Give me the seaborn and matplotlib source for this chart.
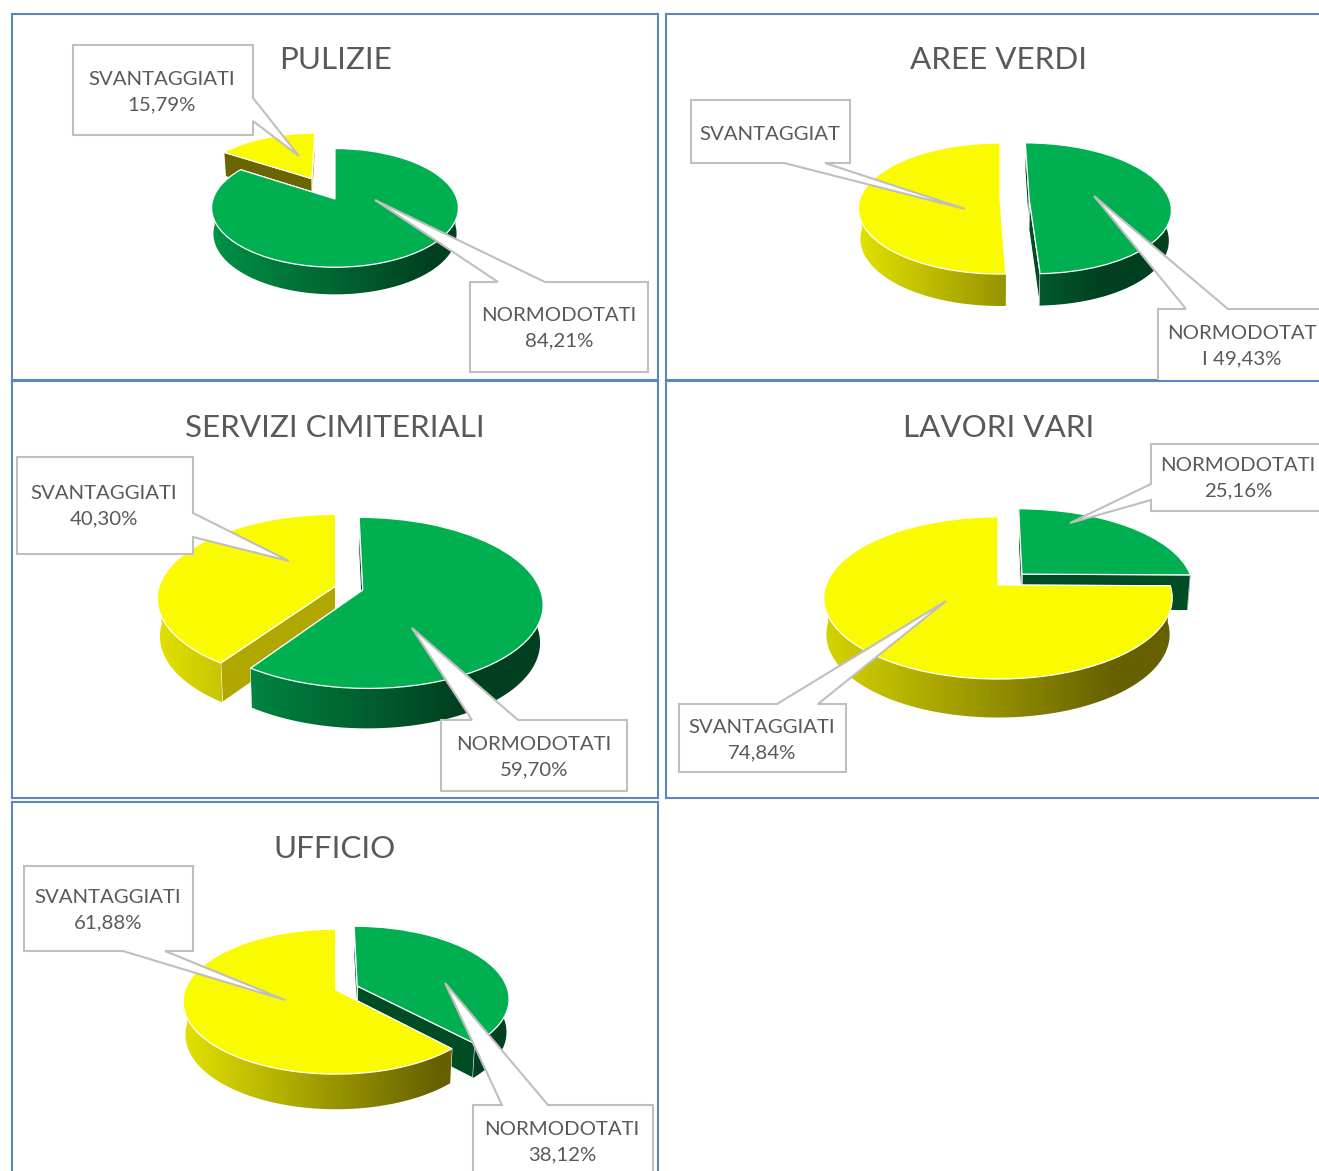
import numpy as np
import matplotlib
matplotlib.use('Agg')
import matplotlib.pyplot as plt
from matplotlib.patches import Polygon
from matplotlib.transforms import Transform
import seaborn as sns

# chart data
titles = ['PULIZIE', 'AREE VERDI', 'SERVIZI CIMITERIALI', 'LAVORI VARI', 'UFFICIO']
normodotati = [84.21, 49.43, 59.70, 25.16, 38.12]
svantaggiati = [15.79, 50.57, 40.30, 74.84, 61.88]
normLabels = ['NORMODOTATI\n84,21%', 'NORMODOTAT\nI 49,43%', 'NORMODOTATI\n59,70%',
              'NORMODOTATI\n25,16%', 'NORMODOTATI\n38,12%']
svantLabels = ['SVANTAGGIATI\n15,79%', 'SVANTAGGIAT', 'SVANTAGGIATI\n40,30%',
               'SVANTAGGIATI\n74,84%', 'SVANTAGGIATI\n61,88%']

# layout, everything in reference pixels (y pointing down)
W, H = 1319, 1171
panelBoxes = [(12, 14, 658, 380), (666, 14, 1330, 380), (12, 381, 658, 798),
              (666, 381, 1330, 798), (12, 802, 658, 1185)]
titlePos = [(335, 58), (999, 58), (335, 426), (999, 426), (335, 847)]
# cx, cy, rx, ry, perspective, depth, shift, explode normodotati, explode svantaggiati
pieGeom = [(335, 199, 122, 58, 0.15, 25.5, 0.0, 0.0, 0.42),
           (1000, 198.6, 140, 64, 0.15, 30, 0.104, 0.104, 0.104),
           (335, 588, 177, 83, 0.15, 37.5, 0.08, 0.08, 0.08),
           (998, 585, 172, 79, 0.16, 36, 0.0, 0.2, 0.0),
           (335, 988, 150, 70, 0.16, 32.8, 0.077, 0.077, 0.077)]
# box x0, y0, x1, y1, side the tail leaves from, tail outline, text centre
normCallouts = [((470, 282, 648, 372), 'top', [(498, 282), (375, 200), (545, 282)], (559, 328)),
                ((1158, 309, 1330, 390), 'top', [(1186, 309), (1094, 196), (1228, 309)], (1242, 346)),
                ((441, 720, 627, 791), 'top', [(472, 720), (412, 628), (518, 720)], (534, 757)),
                ((1151, 444, 1330, 511), 'left', [(1151, 500), (1070, 523), (1151, 484)], (1238, 478)),
                ((473, 1105, 653, 1185), 'top', [(502, 1105), (445, 983), (548, 1105)], (562, 1142))]
svantCallouts = [((73, 45, 253, 135), 'right', [(253, 98), (299, 156), (253, 121)], (162, 92)),
                 ((691, 100, 850, 163), 'bottom', [(825, 163), (965, 209), (784, 163)], (770, 134)),
                 ((17, 457, 193, 554), 'right', [(193, 513), (289, 561), (193, 537)], (104, 506)),
                 ((679, 704, 846, 772), 'top', [(777, 704), (946, 601), (818, 704)], (762, 740)),
                 ((24, 866, 193, 951), 'bottom', [(165, 951), (285, 1000), (123, 951)], (108, 910))]

TEXT_GREY = '#595959'
BOX_GREY = '#BFBFBF'
PANEL_BLUE = '#5B87BF'
SLICE_COLORS = ['#00B050', '#FAFA00']
WALL_LIGHT = ['#00A550', '#E2E200']
WALL_DARK = ['#004020', '#666000']
FACE_MID = ['#007A3D', '#B0A800']
FACE_DARK = ['#004D25', '#6B6500']


class PieProjection(Transform):
    # maps the flat unit pie to the tilted ellipse seen in the picture
    input_dims = 2
    output_dims = 2
    is_separable = False
    has_inverse = False

    def __init__(self, cx, cy, rx, ry, k, shift):
        super().__init__()
        self.cx, self.cy, self.rx, self.ry, self.k, self.shift = cx, cy, rx, ry, k, shift

    def transform_non_affine(self, values):
        values = np.asarray(values, dtype=float)
        u = values[:, 0] + self.shift
        w = 1 + self.k * values[:, 1]
        return np.column_stack([self.cx + self.rx * u / w, self.cy - self.ry * values[:, 1] / w])


def drawSideFaces(ax, wedge, proj, geom, idx, zorder):
    cx, cy, rx, ry, k, depth, shift = geom[:7]
    c = np.array(wedge.center)

    def extrude(uv):
        pts = proj.transform_non_affine(uv)
        drop = depth / (1 + 0.4 * k * uv[:, 1])
        # lower rim sits a little inside the upper one
        lowX = cx + (pts[:, 0] - cx) * 0.985
        return pts, np.column_stack([lowX, pts[:, 1] + drop])

    # flat faces along both radii
    for theta, sign in [(wedge.theta1, 1), (wedge.theta2, -1)]:
        rad = np.radians(theta)
        tip = c + [np.cos(rad), np.sin(rad)]
        top, low = extrude(np.array([c, tip]))
        normalX = sign * np.sin(rad)
        color = FACE_MID[idx] if normalX > 0.5 else FACE_DARK[idx]
        ax.add_patch(Polygon(np.vstack([top, low[::-1]]), closed=True, facecolor=color,
                             edgecolor='white', linewidth=0.8, zorder=zorder))

    # outer wall, only the part turned towards the viewer
    th = np.radians(np.linspace(wedge.theta1, wedge.theta2, 400))
    th = th[np.sin(th) < 0.0]
    if len(th) < 2:
        return
    uv = np.column_stack([c[0] + np.cos(th), c[1] + np.sin(th)])
    top, low = extrude(uv)
    poly = Polygon(np.vstack([top, low[::-1]]), closed=True, facecolor='none', edgecolor='none',
                   zorder=zorder + 0.1)
    ax.add_patch(poly)

    # the colour ramp runs over the whole pie, not over one slice
    cmap = sns.blend_palette([WALL_LIGHT[idx], WALL_DARK[idx]], as_cmap=True)
    spread = max(geom[7:9])
    ramp = np.clip(np.linspace(0, 1, 256) / 0.78, 0, 1)[None, :]
    xl = cx + (shift - 1.02 - spread) * rx
    xr = cx + (shift + 1.02 + spread) * rx
    im = ax.imshow(ramp, cmap=cmap, vmin=0, vmax=1, aspect='auto', zorder=zorder + 0.1,
                   extent=(xl, xr, low[:, 1].max() + 2, top[:, 1].min() - 2))
    im.set_clip_path(poly)


def drawCallout(ax, box, side, tail, textPos, label):
    x0, y0, x1, y1 = box
    if side == 'top':
        outline = [(x0, y0)] + tail + [(x1, y0), (x1, y1), (x0, y1)]
    elif side == 'right':
        outline = [(x0, y0), (x1, y0)] + tail + [(x1, y1), (x0, y1)]
    elif side == 'bottom':
        outline = [(x0, y0), (x1, y0), (x1, y1)] + tail + [(x0, y1)]
    else:
        outline = [(x0, y0), (x1, y0), (x1, y1), (x0, y1)] + tail
    ax.add_patch(Polygon(outline, closed=True, facecolor='white', edgecolor=BOX_GREY,
                         linewidth=1.5, joinstyle='miter', zorder=30))
    ax.text(textPos[0], textPos[1], label, color=TEXT_GREY, fontsize=14.7, ha='center', va='center',
            linespacing=1.58, zorder=31)


def drawPanel(fig, i):
    x0, y0, x1, y1 = panelBoxes[i]
    ax = fig.add_axes([x0 / W, 1 - y1 / H, (x1 - x0) / W, (y1 - y0) / H])
    geom = pieGeom[i]
    proj = PieProjection(*geom[:4], geom[4], geom[6])

    wedges, _ = ax.pie([normodotati[i], svantaggiati[i]], explode=geom[7:9], startangle=90, counterclock=False,
                       colors=SLICE_COLORS, radius=1,
                       wedgeprops={'edgecolor': 'white', 'linewidth': 0.9})

    # back slice first, so the front one can cover it
    order = sorted(range(2), key=lambda j: -wedges[j].center[1])
    for n, j in enumerate(order):
        zorder = 5 + 3 * n
        drawSideFaces(ax, wedges[j], proj, geom, j, zorder)
        wedges[j].set_transform(proj + ax.transData)
        wedges[j].set_zorder(zorder + 1)

    drawCallout(ax, *normCallouts[i], normLabels[i])
    drawCallout(ax, *svantCallouts[i], svantLabels[i])
    ax.text(titlePos[i][0], titlePos[i][1] + 2, titles[i], color=TEXT_GREY, fontsize=22.6, ha='center',
            va='center', zorder=32)

    ax.set_aspect('auto')
    ax.set_xlim(x0, x1)
    ax.set_ylim(y1, y0)
    ax.set_xticks([])
    ax.set_yticks([])
    ax.set_frame_on(True)
    for spine in ax.spines.values():
        spine.set_visible(True)
        spine.set_color(PANEL_BLUE)
        spine.set_linewidth(1.5)


sns.set_theme(style='white')
plt.rcParams['font.family'] = ['Lato', 'DejaVu Sans']

fig = plt.figure(figsize=(W / 100, H / 100), dpi=100, facecolor='white')
for i in range(len(titles)):
    drawPanel(fig, i)
fig.savefig('out.png', dpi=100)
